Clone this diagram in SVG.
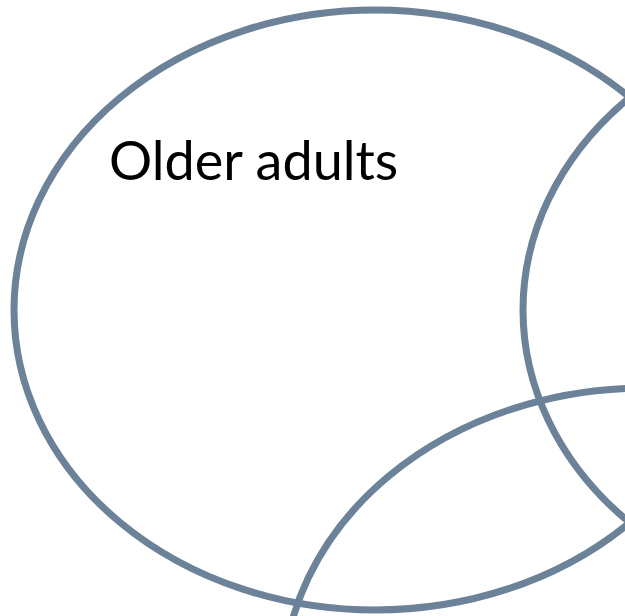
<svg xmlns="http://www.w3.org/2000/svg" width="625" height="616" viewBox="0 0 625 616">
<style>
.set{fill:none;stroke:#6b8299;stroke-width:7}
.lbl{font-family:Lato,"Liberation Sans",sans-serif;font-size:54px;fill:#000}
</style>
<rect width="625" height="616" fill="#fff"/>
<g id="set-older-adults">
<ellipse class="set" cx="375" cy="310" rx="361" ry="300"/>
<text class="lbl" x="109" y="180">Older adults</text>
</g>
<g id="set-right">
<ellipse class="set" cx="885" cy="310" rx="362" ry="300"/>
</g>
<g id="set-bottom">
<ellipse class="set" cx="645" cy="688" rx="362" ry="300"/>
</g>
<g id="connectors"></g>
</svg>
